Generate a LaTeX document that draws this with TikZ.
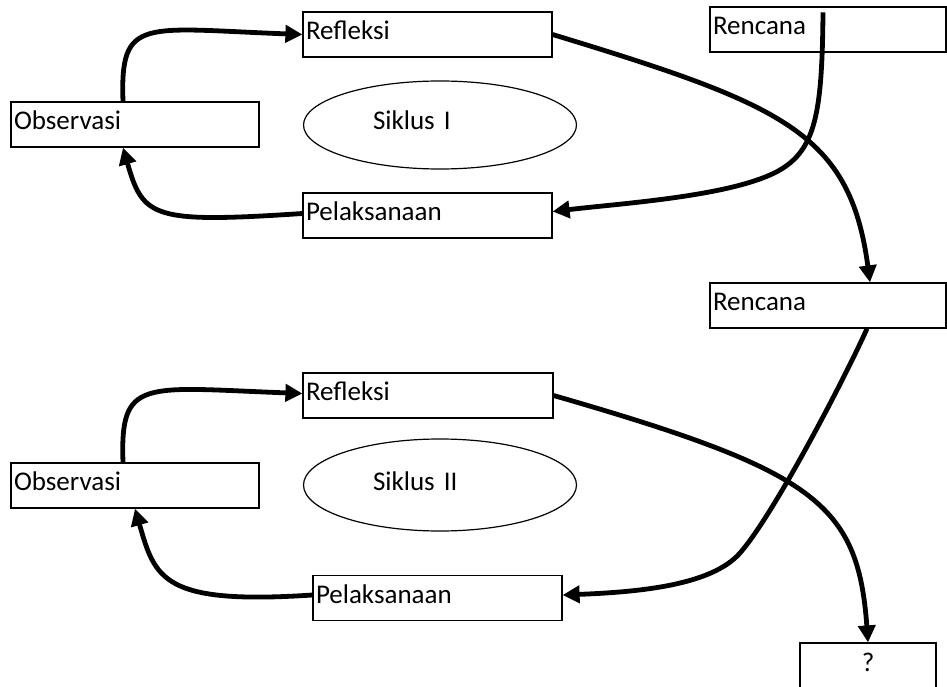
\documentclass[tikz,border=0pt]{standalone}
\usepackage{fontspec}
\setmainfont{Carlito}
\usetikzlibrary{shapes.geometric,arrows.meta}

\begin{document}
\begin{tikzpicture}[
		x=1pt, y=-1pt,
		font=\fontsize{27}{32}\selectfont,
		block/.style={
			rectangle,
			draw,
			line width=1.2pt,
			text width=#1,
			inner xsep=3pt,
			inner ysep=0pt,
			minimum height=45pt,
			text height=17pt,
			text depth=7pt,
			align=left
			},
		oval/.style={
			ellipse,
			draw,
			line width=1.2pt,
			text width=134pt,
			align=left,
			minimum width=273pt,
			minimum height=#1,
			text height=17pt,
			text depth=7pt
			},
		line/.style={
			draw,
			line width=4.8pt,
			-{Triangle[length=17pt,width=17pt]}
			}]
	\useasboundingbox (0,0) rectangle (947,687);
	% Place nodes
	\node [block=242pt] (observe) at (135,124.5) {Observasi};
	\node [block=243pt] (reflect) at (427.5,34.5) {Refleksi};
	\node [block=243pt] (execute) at (427.5,215.5) {Pelaksanaan};
	\node [block=230pt] (plan) at (828,29.5) {Rencana};
	\node [oval=88pt] (cycle1) at (440,125) {Siklus I};
	\node [block=230pt] (plan2) at (828,305.5) {Rencana};
	\node [block=242pt] (observe2) at (135,485.5) {Observasi};
	\node [block=244pt] (reflect2) at (428,395.5) {Refleksi};
	\node [block=243pt] (execute2) at (437.5,598) {Pelaksanaan};
	\node [oval=92pt] (cycle2) at (440,485) {Siklus II};
	\node [block=130pt, align=center, minimum height=47pt] (next) at (868,666.5) {?};

	% Draw edges
	\path [line] ([xshift=-12pt]observe.north) .. controls +(-3,-85) and +(-160,-6) .. (reflect.west);
	\path [line] ([yshift=2pt]execute.west) .. controls +(-150,10) and +(20,70) .. ([xshift=-12pt]observe.south);
	\path [line] (reflect.east) .. controls +(230,70) and +(-20,-150) .. ([xshift=42pt]plan2.north);
	\path [line] ([xshift=-5pt,yshift=-6pt]plan.north) .. controls +(-1,107) and +(45,-20) .. (770,175)
		.. controls +(-50,22) and +(68,-8) .. ([yshift=4pt]execute.east);
	\path [line] ([xshift=-12pt]observe2.north) .. controls +(-3,-85) and +(-160,-6) .. ([yshift=2pt]reflect2.west);
	\path [line] ([yshift=3pt]execute2.west) .. controls +(-150,10) and +(20,70) .. (observe2.south);
	\path [line] (reflect2.east) .. controls +(260,75) and +(-10,-140) .. (next.north);
	\path [line] ([xshift=39pt]plan2.south) .. controls +(-20,45) and +(35,-40) .. (740,553)
		.. controls +(-28,32) and +(78,-3) .. ([yshift=3pt]execute2.east);
\end{tikzpicture}
\end{document}
